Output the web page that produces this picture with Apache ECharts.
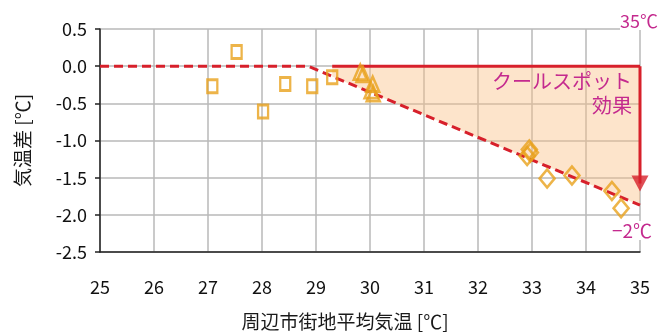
<!DOCTYPE html>
<html>
<head>
<meta charset="utf-8">
<script src="https://cdn.jsdelivr.net/npm/echarts@6/dist/echarts.min.js"></script>
<style>
  html, body { margin: 0; padding: 0; background: #fff; }
  #chart { width: 669px; height: 334px; }
</style>
</head>
<body>
<div id="chart"></div>
<script>
// Observed air-temperature differences (cool spot vs. surrounding town)
const squareX = [27.08, 27.53, 28.02, 28.43, 28.93, 29.30];
const squareY = [-0.27, 0.19, -0.61, -0.24, -0.27, -0.15];

const triangleX = [29.82, 29.87, 30.05, 30.02, 30.06];
const triangleY = [-0.08, -0.11, -0.24, -0.33, -0.37];

const diamondX = [32.95, 32.97, 32.91, 33.28, 33.74, 34.48, 34.65];
const diamondY = [-1.12, -1.16, -1.21, -1.51, -1.47, -1.68, -1.91];

// Regression trend (flat, then falling)
const trendX = [25, 28.85, 35];
const trendY = [0, 0, -1.87];

// Shaded cool-spot effect region
const areaX = [29.3, 35, 35, 29.3];
const areaY = [0, 0, -1.87, -0.14];

// Arrow down the 35 °C edge
const arrowX = [35, 35];
const arrowY = [0, -1.58];

const xTicks = [25, 35, 1];
const yTicks = [-2.5, 0.5, 0.5];

const ORANGE = '#e8a11c';
const RED = '#d7202b';
const MAGENTA = '#c42a8e';
const FONT = '"Noto Sans CJK JP", "Noto Sans", sans-serif';

const zip = (xs, ys) => xs.map((x, i) => [x, ys[i]]);

const chart = echarts.init(document.getElementById('chart'), null, { renderer: 'canvas' });

const markerStyle = {
  color: 'rgba(255,255,255,0)',
  borderColor: ORANGE,
  borderWidth: 2.6
};

chart.setOption({
  animation: false,
  backgroundColor: '#fff',
  grid: { left: 100, right: 29, top: 29, bottom: 82, outerBoundsMode: 'none', containLabel: false },
  xAxis: {
    type: 'value',
    min: xTicks[0], max: xTicks[1], interval: xTicks[2],
    name: '周辺市街地平均気温 [℃]',
    nameLocation: 'middle',
    nameGap: 60,
    nameTextStyle: { fontFamily: FONT, fontSize: 19, color: '#1a1a1a', padding: [0, 50, 0, 0] },
    axisLine: { show: true, onZero: false, lineStyle: { color: '#222', width: 1.5 } },
    axisTick: { show: false },
    axisLabel: { fontFamily: FONT, fontSize: 18, color: '#111', margin: 26 },
    splitLine: { show: true, lineStyle: { color: '#b8b8b8', width: 1.5 } }
  },
  yAxis: {
    type: 'value',
    min: yTicks[0], max: yTicks[1], interval: yTicks[2],
    name: '気温差 [℃]',
    nameLocation: 'middle',
    nameGap: 68,
    nameRotate: 90,
    nameTextStyle: { fontFamily: FONT, fontSize: 19, color: '#1a1a1a' },
    axisLine: { show: true, onZero: false, lineStyle: { color: '#222', width: 1.5 } },
    axisTick: { show: true, inside: false, length: 5, lineStyle: { color: '#222', width: 1.5 } },
    axisLabel: {
      fontFamily: FONT, fontSize: 18, color: '#111', margin: 13,
      formatter: v => v.toFixed(1)
    },
    splitLine: { show: true, lineStyle: { color: '#b8b8b8', width: 1.5 } }
  },
  series: [
    {
      type: 'custom',
      z: 1,
      data: zip(areaX, areaY),
      renderItem: (params, api) => {
        if (params.dataIndex !== 0) return null;
        const pts = zip(areaX, areaY).map(p => api.coord(p));
        return {
          type: 'polygon',
          shape: { points: pts },
          style: { fill: 'rgba(251,190,130,0.42)' }
        };
      }
    },
    {
      type: 'line',
      z: 3,
      data: zip(trendX, trendY),
      symbol: 'none',
      lineStyle: { color: RED, width: 3, type: [9, 5] }
    },
    {
      // top edge of the shaded region
      type: 'line',
      z: 3,
      data: zip(areaX.slice(0, 2), areaY.slice(0, 2)),
      symbol: 'none',
      lineStyle: { color: RED, width: 3 }
    },
    {
      // arrow shaft down the right edge
      type: 'line',
      z: 3,
      data: zip(arrowX, arrowY),
      symbol: 'none',
      lineStyle: { color: RED, width: 3 }
    },
    {
      // arrow head
      type: 'scatter',
      z: 3,
      symbol: 'triangle',
      symbolRotate: 180,
      symbolSize: [17, 16],
      itemStyle: { color: RED },
      data: [[arrowX[1], arrowY[1]]]
    },
    {
      type: 'scatter',
      z: 4,
      symbol: 'rect',
      symbolSize: [10, 13],
      itemStyle: markerStyle,
      data: zip(squareX, squareY)
    },
    {
      type: 'scatter',
      z: 4,
      symbol: 'triangle',
      symbolSize: [13, 15],
      itemStyle: markerStyle,
      data: zip(triangleX, triangleY)
    },
    {
      type: 'scatter',
      z: 4,
      symbol: 'diamond',
      symbolSize: [15, 18],
      itemStyle: markerStyle,
      data: zip(diamondX, diamondY)
    }
  ],
  graphic: [
    {
      type: 'text', left: 620, top: 12, z: 10,
      style: { text: '35℃', fontFamily: FONT, fontSize: 18, fill: MAGENTA, backgroundColor: '#fff' }
    },
    {
      type: 'text', right: 37, top: 71, z: 10,
      style: { text: 'クールスポット', fontFamily: FONT, fontSize: 20, fill: MAGENTA, align: 'right' }
    },
    {
      type: 'text', right: 37, top: 95, z: 10,
      style: { text: '効果', fontFamily: FONT, fontSize: 20, fill: MAGENTA, align: 'right' }
    },
    {
      type: 'text', left: 612, top: 221, z: 10,
      style: { text: '−2℃', fontFamily: FONT, fontSize: 19, fill: MAGENTA, backgroundColor: '#fff' }
    }
  ]
});
</script>
</body>
</html>
